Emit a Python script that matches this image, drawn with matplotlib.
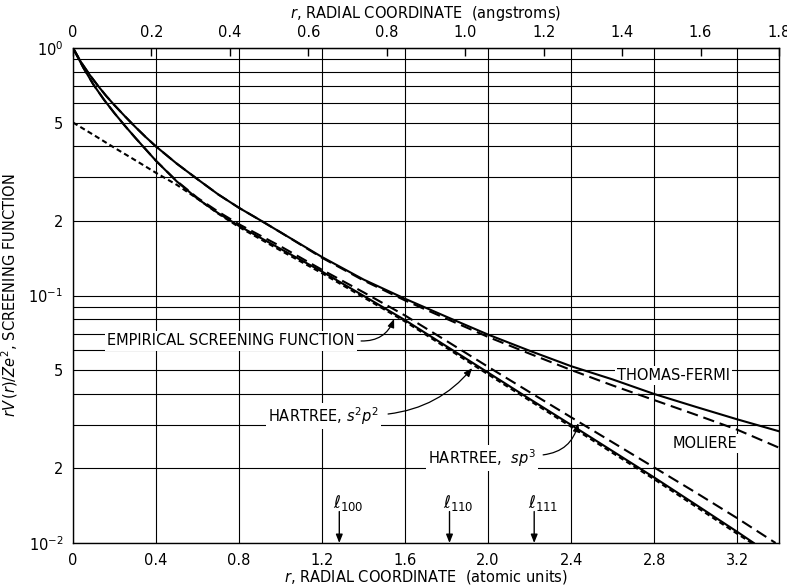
import numpy as np
import matplotlib
matplotlib.use("Agg")
import matplotlib.pyplot as plt

# ---------------- data (r in atomic units, screening function values) ----------------
tf_r = [0.0, 0.04, 0.08, 0.12, 0.16, 0.20, 0.25, 0.30, 0.35, 0.40, 0.50, 0.60, 0.70, 0.80, 0.90,
        1.00, 1.20, 1.40, 1.60, 1.80, 2.00, 2.20, 2.40, 2.60, 2.80, 3.00, 3.20, 3.40]
tf_v = [1.0, 0.873, 0.780, 0.704, 0.640, 0.587, 0.530, 0.480, 0.437, 0.400, 0.341, 0.295, 0.256, 0.226, 0.202,
        0.180, 0.143, 0.116, 0.097, 0.082, 0.0695, 0.0598, 0.0518, 0.0458, 0.0400, 0.0355, 0.0316, 0.0283]

mol_r = [0.0, 0.04, 0.08, 0.12, 0.16, 0.20, 0.25, 0.30, 0.35, 0.40, 0.50, 0.60, 0.70, 0.80, 0.90,
         1.00, 1.20, 1.40, 1.60, 1.80, 2.00, 2.20, 2.40, 2.60, 2.80, 3.00, 3.20, 3.40]
mol_v = [1.0, 0.873, 0.780, 0.704, 0.640, 0.587, 0.530, 0.480, 0.437, 0.400, 0.341, 0.295, 0.256, 0.226, 0.202,
         0.180, 0.142, 0.115, 0.0955, 0.0805, 0.0680, 0.0582, 0.0500, 0.0433, 0.0378, 0.0330, 0.0287, 0.0243]

s2p2_r = [0.0, 0.05, 0.10, 0.15, 0.20, 0.25, 0.30, 0.40, 0.50, 0.60, 0.70, 0.80, 1.00, 1.20, 1.40,
          1.60, 1.80, 2.00, 2.20, 2.40, 2.60, 2.80, 3.00, 3.20, 3.28]
s2p2_v = [1.0, 0.832, 0.708, 0.617, 0.545, 0.485, 0.434, 0.350, 0.289, 0.246, 0.215, 0.191, 0.1543, 0.1249, 0.0997,
          0.0795, 0.0623, 0.0488, 0.0382, 0.0300, 0.0235, 0.0184, 0.0143, 0.0111, 0.0100]

sp3_r = [0.0, 0.05, 0.10, 0.15, 0.20, 0.25, 0.30, 0.40, 0.50, 0.60, 0.70, 0.80, 1.00, 1.20, 1.40,
         1.60, 1.80, 2.00, 2.20, 2.40, 2.60, 2.80, 3.00, 3.20, 3.385]
sp3_v = [1.0, 0.832, 0.708, 0.617, 0.545, 0.485, 0.434, 0.350, 0.290, 0.248, 0.218, 0.194, 0.158, 0.127, 0.103,
         0.083, 0.0655, 0.0515, 0.0407, 0.0322, 0.0255, 0.0202, 0.0160, 0.0126, 0.0100]

emp_r = [0.0, 0.10, 0.20, 0.30, 0.40, 0.50, 0.60, 0.70, 0.80, 1.00, 1.20, 1.60, 2.00, 2.40, 2.80, 3.20, 3.27]
emp_v = [0.50, 0.445, 0.395, 0.352, 0.313, 0.280, 0.246, 0.214, 0.189, 0.152, 0.123, 0.0785, 0.0480, 0.0295, 0.0181, 0.0109, 0.0100]

lattice_names = [r"$\ell_{100}$", r"$\ell_{110}$", r"$\ell_{111}$"]
lattice_r = [1.283, 1.814, 2.222]

x_ticks = [0, 0.4, 0.8, 1.2, 1.6, 2.0, 2.4, 2.8, 3.2]
x_tick_labels = ["0", "0.4", "0.8", "1.2", "1.6", "2.0", "2.4", "2.8", "3.2"]
ang_ticks = [0, 0.2, 0.4, 0.6, 0.8, 1.0, 1.2, 1.4, 1.6, 1.8]
ang_tick_labels = ["0", "0.2", "0.4", "0.6", "0.8", "1.0", "1.2", "1.4", "1.6", "1.8"]
y_major = [0.01, 0.02, 0.05, 0.1, 0.2, 0.5, 1.0]
y_major_labels = [r"$10^{-2}$", "2", "5", r"$10^{-1}$", "2", "5", r"$10^{0}$"]
y_minor = [0.03, 0.04, 0.06, 0.07, 0.08, 0.09, 0.3, 0.4, 0.6, 0.7, 0.8, 0.9]

AU_PER_ANG = 1.8897

plt.rcParams['font.family'] = ['DejaVu Sans']
plt.rcParams['mathtext.fontset'] = 'dejavusans'

fig = plt.figure(figsize=(7.87, 5.88), dpi=100)
ax = fig.add_axes([73/787, 1-543/588, (779-73)/787, (543-48)/588])
ax.set_yscale('log')
ax.set_xlim(0, 1.8 * AU_PER_ANG)
ax.set_ylim(0.01, 1.0)
ax.set_axisbelow(True)

lw = 1.5
ax.plot(tf_r, tf_v, color='black', lw=lw, zorder=4)
ax.plot(mol_r, mol_v, color='black', lw=lw, dashes=(5.5, 2.8), zorder=4)
ax.plot(s2p2_r, s2p2_v, color='black', lw=lw, zorder=4)
ax.plot(sp3_r, sp3_v, color='black', lw=lw, dashes=(5.5, 2.8), zorder=4)
ax.plot(emp_r, emp_v, color='black', lw=lw, dashes=(2.5, 1.6), zorder=4)

ax.set_xticks(x_ticks)
ax.set_xticklabels(x_tick_labels, fontsize=10.5)
ax.set_yticks(y_major)
ax.set_yticklabels(y_major_labels, fontsize=10.5)
ax.set_yticks(y_minor, minor=True)
ax.yaxis.set_minor_formatter(matplotlib.ticker.NullFormatter())
ax.tick_params(axis='both', which='both', length=0, pad=7)
ax.grid(True, which='both', color='black', lw=0.8)
for s in ax.spines.values():
    s.set_linewidth(1.0)

ax.set_xlabel(r"$r$, RADIAL COORDINATE  (atomic units)", fontsize=10.5, labelpad=0)
ax.set_ylabel(r"$rV\,(r)/Ze^2$, SCREENING FUNCTION", fontsize=10.5, labelpad=6)

sec = ax.secondary_xaxis('top', functions=(lambda x: x / AU_PER_ANG, lambda x: x * AU_PER_ANG))
sec.set_xticks(ang_ticks)
sec.set_xticklabels(ang_tick_labels, fontsize=10.5)
sec.tick_params(direction='in', length=6, width=1, pad=6)
sec.set_xlabel(r"$r$, RADIAL COORDINATE  (angstroms)", fontsize=10.5, labelpad=5)

bbox = dict(facecolor='white', edgecolor='none', pad=1.5)
tkw = dict(fontsize=10.5, va='center', ha='left', bbox=bbox, zorder=3)
ax.text(0.164, 0.0655, "EMPIRICAL SCREENING FUNCTION", **tkw)
ax.text(0.94, 0.0326, r"HARTREE, $s^2p^2$", **tkw)
ax.text(1.711, 0.0221, r"HARTREE,  $sp^3$", **tkw)
ax.text(2.62, 0.0477, "THOMAS-FERMI", **tkw)
ax.text(2.89, 0.0253, "MOLIERE", **tkw)

akw = dict(arrowstyle='-|>,head_length=0.5,head_width=0.2', color='black', lw=0.9,
           shrinkA=0, shrinkB=0)
ax.annotate('', xy=(1.547, 0.0804), xytext=(1.388, 0.0655),
            arrowprops=dict(connectionstyle='arc3,rad=0.35', **akw), zorder=5)
ax.annotate('', xy=(1.923, 0.0509), xytext=(1.518, 0.0332),
            arrowprops=dict(connectionstyle='arc3,rad=0.2', **akw), zorder=5)
ax.annotate('', xy=(2.434, 0.0305), xytext=(2.265, 0.0227),
            arrowprops=dict(connectionstyle='arc3,rad=0.35', **akw), zorder=5)

for name, r in zip(lattice_names, lattice_r):
    ax.annotate('', xy=(r, 0.0100), xytext=(r, 0.0134),
                arrowprops=dict(arrowstyle='-|>,head_length=0.5,head_width=0.2',
                                color='black', lw=1.0, shrinkA=0, shrinkB=0), zorder=5)
    ax.text(r - 0.03, 0.01445, name, fontsize=12, ha='left', va='center', zorder=5)

fig.savefig("out.png", dpi=100)
